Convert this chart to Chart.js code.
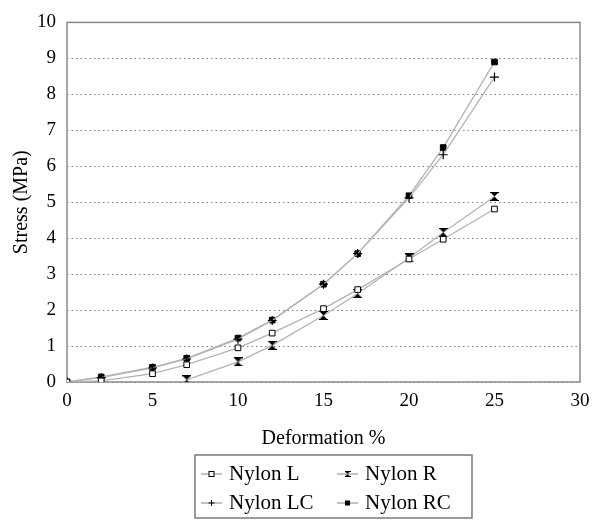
<!DOCTYPE html>
<html>
<head>
<meta charset="utf-8">
<script src="https://cdn.jsdelivr.net/npm/chart.js@4/dist/chart.umd.min.js"></script>
<style>
  html, body { margin: 0; padding: 0; background: #fff; }
  #wrap { position: relative; width: 599px; height: 522px; }
</style>
</head>
<body>
<div id="wrap"><canvas id="c" width="599" height="522"></canvas></div>
<script>
// ---- data ----
const deformation = [0, 2, 5, 7, 10, 12, 15, 17, 20, 22, 25];
const nylonL  = [0, 0.03, 0.23, 0.48, 0.95, 1.36, 2.04, 2.57, 3.42, 3.97, 4.81];
const nylonR  = [null, null, null, 0.06, 0.56, 1.02, 1.85, 2.46, 3.45, 4.16, 5.16];
const nylonLC = [0, 0.12, 0.39, 0.64, 1.19, 1.71, 2.72, 3.57, 5.12, 6.32, 8.48];
const nylonRC = [0, 0.14, 0.41, 0.66, 1.22, 1.72, 2.72, 3.57, 5.18, 6.52, 8.9];
const seriesNames = ['Nylon L', 'Nylon R', 'Nylon LC', 'Nylon RC'];
const xTicks = [0, 5, 10, 15, 20, 25, 30];
const yTicks = [0, 1, 2, 3, 4, 5, 6, 7, 8, 9, 10];

const FONT = "'Liberation Serif', 'Times New Roman', serif";
const LINE = '#b4b4b4';

function pts(vals) {
  const out = [];
  deformation.forEach((x, i) => { if (vals[i] !== null) out.push({x: x, y: vals[i]}); });
  return out;
}

// hourglass marker for Nylon R
function hourglass(s) {
  const c = document.createElement('canvas');
  c.width = s; c.height = s;
  const g = c.getContext('2d');
  g.fillStyle = '#000';
  g.beginPath(); g.moveTo(0.5, 0.5); g.lineTo(s - 0.5, 0.5); g.lineTo(s / 2, s / 2); g.closePath(); g.fill();
  g.beginPath(); g.moveTo(0.5, s - 0.5); g.lineTo(s - 0.5, s - 0.5); g.lineTo(s / 2, s / 2); g.closePath(); g.fill();
  g.strokeStyle = '#000'; g.lineWidth = 1;
  g.beginPath(); g.moveTo(0, 0.5); g.lineTo(s, 0.5); g.moveTo(0, s - 0.5); g.lineTo(s, s - 0.5); g.stroke();
  return c;
}
const hgBig = hourglass(9);
const hgSmall = hourglass(6);

const styles = [
  {pointStyle: 'rect', pointRadius: 4, pointBackgroundColor: '#fff', pointBorderColor: '#000', pointBorderWidth: 1},
  {pointStyle: hgBig, pointRadius: 4.5, pointBackgroundColor: '#000', pointBorderColor: '#000', pointBorderWidth: 1},
  {pointStyle: 'cross', pointRadius: 4.5, pointBackgroundColor: '#000', pointBorderColor: '#000', pointBorderWidth: 1.2},
  {pointStyle: 'rect', pointRadius: 4, pointBackgroundColor: '#000', pointBorderColor: '#000', pointBorderWidth: 1}
];
const values = [nylonL, nylonR, nylonLC, nylonRC];

const datasets = values.map((v, i) => Object.assign({
  label: seriesNames[i],
  data: pts(v),
  borderColor: LINE,
  borderWidth: 1.3,
  fill: false,
  tension: 0,
  showLine: true,
  spanGaps: true
}, styles[i]));

// frame around the plot area
const framePlugin = {
  id: 'frame',
  beforeDatasetsDraw(chart) {
    const a = chart.chartArea, ctx = chart.ctx;
    ctx.save();
    ctx.strokeStyle = '#8a8a8a';
    ctx.lineWidth = 1.5;
    ctx.strokeRect(a.left, a.top, a.right - a.left, a.bottom - a.top);
    ctx.restore();
  }
};

// 2x2 boxed legend below the x-axis title
const legendPlugin = {
  id: 'boxLegend',
  afterDraw(chart) {
    const ctx = chart.ctx;
    const box = {l: 195, t: 455, r: 472, b: 518};
    ctx.save();
    ctx.strokeStyle = '#7a7a7a';
    ctx.lineWidth = 1.5;
    ctx.strokeRect(box.l, box.t, box.r - box.l, box.b - box.t);
    const cols = [201, 337];
    const rows = [474, 503];
    ctx.font = '21px ' + FONT;
    ctx.textBaseline = 'middle';
    ctx.fillStyle = '#000';
    seriesNames.forEach((name, i) => {
      const x = cols[i % 2], y = rows[Math.floor(i / 2)];
      ctx.strokeStyle = '#888';
      ctx.lineWidth = 1;
      ctx.beginPath(); ctx.moveTo(x, y); ctx.lineTo(x + 21, y); ctx.stroke();
      const cx = x + 10.5;
      ctx.strokeStyle = '#000';
      ctx.fillStyle = '#000';
      if (i === 0) { ctx.fillStyle = '#fff'; ctx.fillRect(cx - 2.5, y - 2.5, 5, 5); ctx.strokeRect(cx - 2.5, y - 2.5, 5, 5); }
      else if (i === 1) { ctx.drawImage(hgSmall, cx - 3, y - 3); }
      else if (i === 2) { ctx.beginPath(); ctx.moveTo(cx - 3, y); ctx.lineTo(cx + 3, y); ctx.moveTo(cx, y - 3); ctx.lineTo(cx, y + 3); ctx.stroke(); }
      else { ctx.fillRect(cx - 2.5, y - 2.5, 5, 5); }
      ctx.fillStyle = '#000';
      ctx.textAlign = 'left';
      ctx.fillText(name, x + 28, y);
    });
    ctx.restore();
  }
};

new Chart(document.getElementById('c'), {
  type: 'scatter',
  data: { datasets: datasets },
  options: {
    responsive: false,
    animation: false,
    devicePixelRatio: 1,
    layout: { padding: { left: 0, top: 20, right: 19, bottom: 70 } },
    plugins: { legend: { display: false }, tooltip: { enabled: false } },
    scales: {
      x: {
        type: 'linear',
        min: 0, max: 30,
        afterBuildTicks: (s) => { s.ticks = xTicks.map(v => ({value: v})); },
        afterFit: (s) => { s.height = 70; },
        grid: { display: false, drawTicks: false },
        border: { display: false },
        ticks: { color: '#000', font: { family: FONT, size: 19 }, padding: 8, maxRotation: 0 },
        title: { display: true, text: 'Deformation %', color: '#000', font: { family: FONT, size: 20 }, padding: { top: 0, bottom: 1 } }
      },
      y: {
        type: 'linear',
        min: 0, max: 10,
        afterBuildTicks: (s) => { s.ticks = yTicks.map(v => ({value: v})); },
        afterFit: (s) => { s.width = 67; },
        grid: { color: '#808080', lineWidth: 1, drawTicks: false },
        border: { display: false, dash: [1.5, 3] },
        ticks: { color: '#000', font: { family: FONT, size: 19 }, padding: 11 },
        title: { display: true, text: 'Stress (MPa)', color: '#000', font: { family: FONT, size: 20 }, padding: { top: 10, bottom: 0 } }
      }
    }
  },
  plugins: [framePlugin, legendPlugin]
});
</script>
</body>
</html>
